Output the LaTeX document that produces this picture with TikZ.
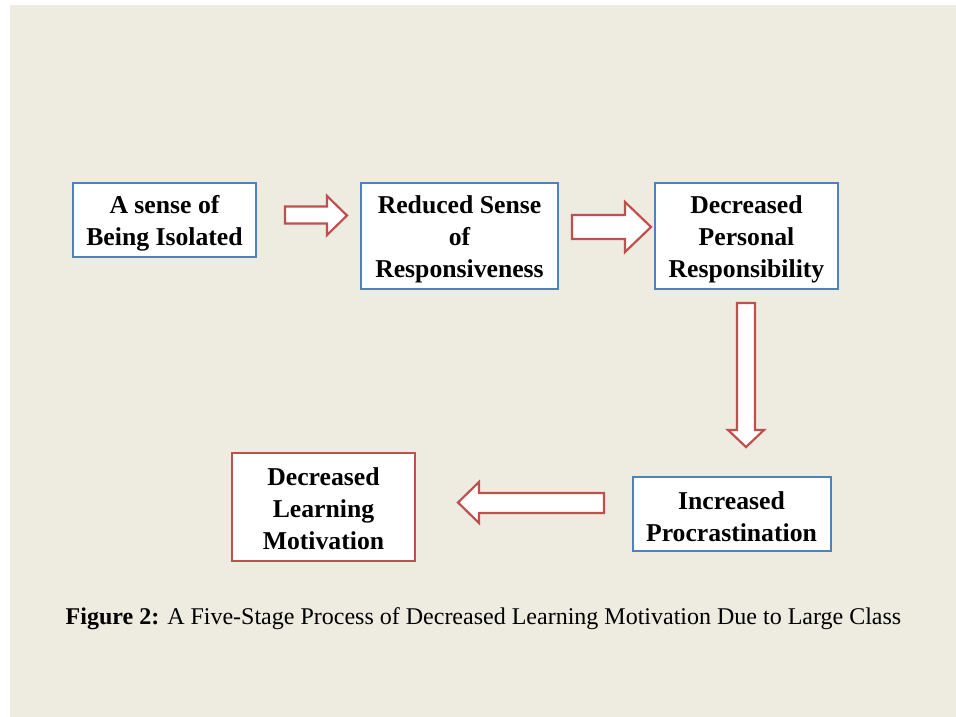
\documentclass[tikz,border=0pt]{standalone}
\usepackage{fontspec}
\setmainfont{Liberation Serif}
\definecolor{bgbeige}{HTML}{EEEBE0}
\definecolor{boxblue}{HTML}{4F81BD}
\definecolor{boxred}{HTML}{C0504D}
\tikzset{
  stagebox/.style={draw=boxblue, line width=2pt, fill=white, inner sep=0pt},
  lastbox/.style={stagebox, draw=boxred},
  boxtext/.style={inner sep=0pt, align=center, font=\bfseries\fontsize{25.7}{32}\selectfont},
  blockarrow/.style={draw=boxred, line width=2.2pt, fill=white, line join=miter},
}
\begin{document}
\begin{tikzpicture}[x=1pt,y=-1pt]
\useasboundingbox (0,0) rectangle (956,717);
\fill[white] (0,0) rectangle (956,717);
\fill[bgbeige] (10,5) rectangle (956,717);

\node[stagebox, minimum width=183pt, minimum height=74pt] (s1) at (164.5,220) {};
\node[stagebox, minimum width=197pt, minimum height=106pt] (s2) at (459.5,236) {};
\node[stagebox, minimum width=183pt, minimum height=106pt] (s3) at (746.5,236) {};
\node[stagebox, minimum width=198pt, minimum height=74pt] (s4) at (731.5,514) {};
\node[lastbox, minimum width=183pt, minimum height=108pt] (s5) at (323.5,507) {};

\node[boxtext] (t1) at ([yshift=-3pt]s1.center) {A sense of\\Being Isolated};
\node[boxtext] (t2) at ([yshift=-3pt]s2.center) {Reduced Sense\\of\\Responsiveness};
\node[boxtext] (t3) at ([yshift=-3pt]s3.center) {Decreased\\Personal\\Responsibility};
\node[boxtext] (t4) at ([yshift=-3pt]s4.center) {Increased\\Procrastination};
\node[boxtext] (t5) at ([yshift=-2pt]s5.center) {Decreased\\Learning\\Motivation};

% block arrows
\draw[blockarrow] (285,206.5) -- (327,206.5) -- (327,196) -- (347,215.5) -- (327,235) -- (327,223.5) -- (285,223.5) -- cycle;
\draw[blockarrow] (572,215) -- (625,215) -- (625,202) -- (651,227) -- (625,252) -- (625,239) -- (572,239) -- cycle;
\draw[blockarrow] (737,303) -- (755,303) -- (755,430) -- (764,430) -- (746,447) -- (728,430) -- (737,430) -- cycle;
\draw[blockarrow] (604,493) -- (479,493) -- (479,482) -- (458,502.5) -- (479,523) -- (479,513) -- (604,513) -- cycle;

\node[font=\fontsize{24}{28}\selectfont, inner sep=0pt] (cap) at (483.5,619) {\textbf{Figure 2:} A Five-Stage Process of Decreased Learning Motivation Due to Large Class};
\end{tikzpicture}
\end{document}
